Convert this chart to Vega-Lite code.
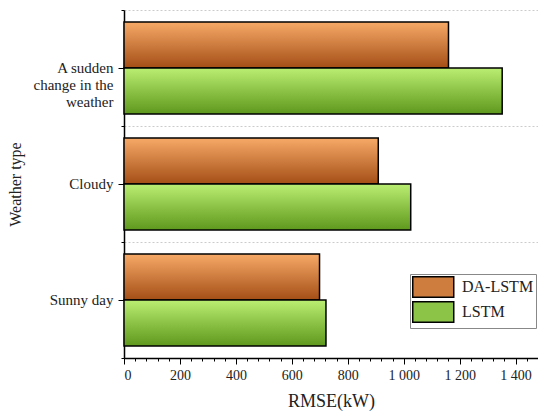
{
  "$schema": "https://vega.github.io/schema/vega-lite/v6.json",
  "width": 414,
  "height": 348,
  "autosize": "none",
  "padding": {"left": 124, "top": 10, "right": 0, "bottom": 58},
  "data": {
    "values": [
      {"weather": "A sudden change in the weather", "model": "DA-LSTM", "rmse": 1160},
      {"weather": "A sudden change in the weather", "model": "LSTM", "rmse": 1352},
      {"weather": "Cloudy", "model": "DA-LSTM", "rmse": 909},
      {"weather": "Cloudy", "model": "LSTM", "rmse": 1025},
      {"weather": "Sunny day", "model": "DA-LSTM", "rmse": 699},
      {"weather": "Sunny day", "model": "LSTM", "rmse": 722}
    ]
  },
  "layer": [
    {
      "mark": {"type": "bar", "opacity": 0},
      "encoding": {
        "y": {
          "field": "weather",
          "type": "nominal",
          "sort": ["A sudden change in the weather", "Cloudy", "Sunny day"],
          "scale": {"paddingInner": 0, "paddingOuter": 0},
          "axis": {
            "orient": "left",
            "title": null,
            "labels": false,
            "domain": false,
            "tickBand": "extent",
            "tickSize": 3,
            "tickColor": "black",
            "grid": true,
            "gridColor": "#cccccc",
            "gridDash": [2, 2],
            "gridWidth": 1
          }
        },
        "x": {
          "field": "rmse",
          "type": "quantitative",
          "scale": {"domain": [0, 1480], "nice": false},
          "axis": {
            "orient": "bottom",
            "title": null,
            "labels": false,
            "domain": false,
            "grid": false,
            "tickSize": 3,
            "tickColor": "black",
            "values": [0, 40, 80, 120, 160, 200, 240, 280, 320, 360, 400, 440, 480, 520, 560, 600, 640, 680, 720, 760, 800, 840, 880, 920, 960, 1000, 1040, 1080, 1120, 1160, 1200, 1240, 1280, 1320, 1360, 1400, 1440, 1480]
          }
        },
        "color": {
          "field": "model",
          "type": "nominal",
          "scale": {"domain": ["DA-LSTM", "LSTM"], "range": ["#CF7C3F", "#8CC448"]},
          "legend": {
            "title": null,
            "orient": "none",
            "legendX": 286,
            "legendY": 264,
            "strokeColor": "#888888",
            "fillColor": "white",
            "padding": 2,
            "symbolType": "M-1,-1H3V1H-1Z",
            "symbolSize": 420,
            "symbolOpacity": 1,
            "symbolStrokeColor": "black",
            "symbolStrokeWidth": 1.5,
            "labelFont": "Liberation Serif",
            "labelFontSize": 16,
            "labelOffset": 28,
            "rowPadding": -8
          }
        }
      }
    },
    {
      "mark": {"type": "bar", "stroke": "black", "strokeWidth": 1.5},
      "encoding": {
        "y": {
          "field": "weather",
          "type": "nominal",
          "sort": ["A sudden change in the weather", "Cloudy", "Sunny day"],
          "axis": {
            "orient": "left",
            "title": "Weather type",
            "titleFont": "Liberation Serif",
            "titleFontSize": 16,
            "titleFontWeight": "normal",
            "titlePadding": 10,
            "labelFont": "Liberation Serif",
            "labelFontSize": 15,
            "labelLineHeight": 17,
            "labelPadding": 5,
            "tickSize": 6,
            "tickColor": "black",
            "domainColor": "black",
            "domainWidth": 1.5,
            "grid": false,
            "labelExpr": "datum.value == 'A sudden change in the weather' ? ['A sudden', 'change in the', 'weather'] : datum.value"
          }
        },
        "yOffset": {
          "field": "model",
          "type": "nominal",
          "sort": ["DA-LSTM", "LSTM"],
          "scale": {"paddingInner": 0, "paddingOuter": 0.26}
        },
        "x": {
          "field": "rmse",
          "type": "quantitative",
          "axis": {
            "orient": "bottom",
            "title": "RMSE(kW)",
            "titleFont": "Liberation Serif",
            "titleFontSize": 18,
            "titleFontWeight": "normal",
            "titlePadding": 10,
            "labelFont": "Liberation Serif",
            "labelFontSize": 14,
            "labelPadding": 4,
            "values": [0, 200, 400, 600, 800, 1000, 1200, 1400],
            "format": ",d",
            "tickSize": 6,
            "tickColor": "black",
            "domainColor": "black",
            "domainWidth": 1.5,
            "grid": false
          }
        },
        "fill": {
          "condition": {
            "test": "datum.model == 'DA-LSTM'",
            "value": {"gradient": "linear", "x1": 0, "y1": 0, "x2": 0, "y2": 1, "stops": [{"offset": 0, "color": "#F7AA68"}, {"offset": 1, "color": "#A44E16"}]}
          },
          "value": {"gradient": "linear", "x1": 0, "y1": 0, "x2": 0, "y2": 1, "stops": [{"offset": 0, "color": "#BAEE72"}, {"offset": 1, "color": "#5E981C"}]}
        }
      }
    }
  ],
  "resolve": {"axis": {"x": "independent", "y": "independent"}},
  "config": {
    "font": "Liberation Serif",
    "view": {"stroke": null},
    "axis": {"labelColor": "#222222", "titleColor": "#222222"},
    "legend": {"labelColor": "#222222"},
    "locale": {"number": {"decimal": ".", "thousands": " ", "grouping": [3], "currency": ["", ""]}}
  }
}
